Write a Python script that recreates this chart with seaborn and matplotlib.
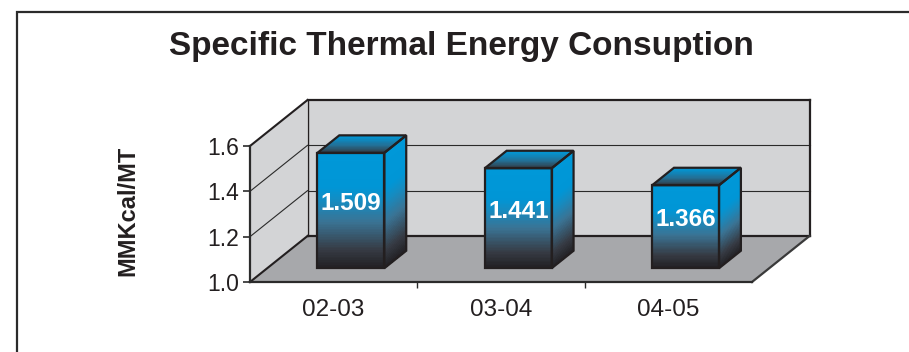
import matplotlib
matplotlib.use("Agg")
import matplotlib.pyplot as plt
import matplotlib.transforms as mtransforms
from matplotlib.patches import Polygon, Rectangle
from matplotlib.lines import Line2D
from matplotlib.colors import LinearSegmentedColormap
import seaborn as sns

# ---- data ----
categories = ["02-03", "03-04", "04-05"]
values = [1.509, 1.441, 1.366]
y_ticks = [1.0, 1.2, 1.4, 1.6]
title = "Specific Thermal Energy Consuption"
y_label = "MMKcal/MT"

sns.set_theme(style="white")
plt.rcParams["font.family"] = ["Liberation Sans", "DejaVu Sans"]

W, H, DPI = 909, 352, 100
fig = plt.figure(figsize=(W / DPI, H / DPI), dpi=DPI)
fig.patch.set_facecolor("white")

# front plane of the 3-D box
ax = fig.add_axes([250 / W, (H - 282) / H, 502 / W, (282 - 146) / H])
ax.set_facecolor("none")

FLOOR, TOP = y_ticks[0], y_ticks[-1]
DX, DY = 57.5, 46.0          # full depth offset in pixels
D0, D1 = 0.30, 0.68          # bar depth span
BAR_W = 0.40
DARK = "#231f20"

sns.barplot(x=categories, y=values, ax=ax, width=BAR_W, errorbar=None,
            color="#0096d6", edgecolor=DARK, linewidth=1.6, zorder=4)

n = len(categories)
X0, X1 = -0.5, n - 0.5
ax.set_xlim(X0, X1)
ax.set_ylim(FLOOR, TOP)

ident = mtransforms.IdentityTransform()


def disp(x, y, d):
    px, py = ax.transData.transform((x, y))
    return (px + d * DX, py + d * DY)


def poly(pts, **kw):
    p = Polygon(pts, closed=True, transform=ident, clip_on=False, **kw)
    ax.add_patch(p)
    return p


def line(p, q, lw=1.0, color=DARK, z=1.0):
    ax.add_line(Line2D([p[0], q[0]], [p[1], q[1]], transform=ident,
                       clip_on=False, lw=lw, color=color, zorder=z,
                       solid_capstyle="projecting"))


# ---- walls and floor ----
wall_c, floor_c = "#d3d4d6", "#a7a8ab"
poly([disp(X0, FLOOR, 0), disp(X0, TOP, 0), disp(X0, TOP, 1), disp(X0, FLOOR, 1)],
     facecolor=wall_c, edgecolor="none", zorder=0.5)
poly([disp(X0, FLOOR, 1), disp(X1, FLOOR, 1), disp(X1, TOP, 1), disp(X0, TOP, 1)],
     facecolor=wall_c, edgecolor="none", zorder=0.5)
poly([disp(X0, FLOOR, 0), disp(X1, FLOOR, 0), disp(X1, FLOOR, 1), disp(X0, FLOOR, 1)],
     facecolor=floor_c, edgecolor="none", zorder=0.5)

# gridlines on side and back walls
for t in y_ticks[1:-1]:
    line(disp(X0, t, 0), disp(X0, t, 1), lw=0.8, color="#2a2a2a", z=0.7)
    line(disp(X0, t, 1), disp(X1, t, 1), lw=0.8, color="#2a2a2a", z=0.7)
line(disp(X0, TOP, 0), disp(X0, TOP, 1), lw=1.5, z=0.8)
line(disp(X0, FLOOR, 0), disp(X0, FLOOR, 1), lw=1.5, z=0.8)
line(disp(X0, TOP, 1), disp(X1, TOP, 1), lw=1.6, z=0.8)
line(disp(X1, TOP, 1), disp(X1, FLOOR, 1), lw=1.6, z=0.8)
line(disp(X0, FLOOR, 1), disp(X1, FLOOR, 1), lw=1.6, z=0.8)
line(disp(X0, TOP, 1), disp(X0, FLOOR, 1), lw=1.0, z=0.8)
line(disp(X1, FLOOR, 0), disp(X1, FLOOR, 1), lw=1.6, color="#3a3a3a", z=0.8)

# ---- bar shading ----
face_cmap = LinearSegmentedColormap.from_list("face", [
    (0.00, "#211f22"), (0.16, "#363b44"), (0.40, "#3a7394"),
    (0.58, "#168bc0"), (0.70, "#0096d6"), (1.00, "#0098d8")])
top_cmap = LinearSegmentedColormap.from_list("top", [
    (0.00, "#34373d"), (0.45, "#236f95"), (1.00, "#0098d8")])


def grad_quad(b0, b1, t0, t1, cmap, steps=70, z=3.0):
    for i in range(steps):
        a, b = i / steps, (i + 1.02) / steps
        b = min(b, 1.0)
        lerp = lambda p, q, s: (p[0] + (q[0] - p[0]) * s, p[1] + (q[1] - p[1]) * s)
        pts = [lerp(b0, t0, a), lerp(b1, t1, a), lerp(b1, t1, b), lerp(b0, t0, b)]
        poly(pts, facecolor=cmap((i + 0.5) / steps), edgecolor="none",
             antialiased=False, zorder=z)


front_tr = ax.transData + mtransforms.Affine2D().translate(D0 * DX, D0 * DY)
for patch, v in zip(ax.patches, values):
    x0 = patch.get_x()
    x1 = x0 + patch.get_width()
    patch.set_y(FLOOR)
    patch.set_height(v - FLOOR)
    patch.set_transform(front_tr)
    patch.set_facecolor("none")
    patch.set_clip_on(False)
    patch.set_zorder(4)

    # front face
    grad_quad(disp(x0, FLOOR, D0), disp(x1, FLOOR, D0),
              disp(x0, v, D0), disp(x1, v, D0), face_cmap)
    # side face
    grad_quad(disp(x1, FLOOR, D0), disp(x1, FLOOR, D1),
              disp(x1, v, D0), disp(x1, v, D1), face_cmap)
    poly([disp(x1, FLOOR, D0), disp(x1, FLOOR, D1), disp(x1, v, D1), disp(x1, v, D0)],
         facecolor="none", edgecolor=DARK, lw=1.6, zorder=4)
    # top face
    grad_quad(disp(x0, v, D0), disp(x1, v, D0),
              disp(x0, v, D1), disp(x1, v, D1), top_cmap, steps=30)
    poly([disp(x0, v, D0), disp(x1, v, D0), disp(x1, v, D1), disp(x0, v, D1)],
         facecolor="none", edgecolor=DARK, lw=1.6, zorder=4)

    # value label
    cx = (x0 + x1) / 2
    lab_tr = ax.transData + mtransforms.Affine2D().translate(
        D0 * DX, (D0 + D1) / 2 * DY - 2)
    ax.text(cx, (FLOOR + v) / 2, f"{v:.3f}", transform=lab_tr, ha="center",
            va="center", color="white", fontsize=17.5, fontweight="bold",
            zorder=5, clip_on=False)

# ---- axes: front edges, ticks, labels ----
for side in ("top", "right"):
    ax.spines[side].set_visible(False)
for side in ("left", "bottom"):
    ax.spines[side].set_visible(True)
    ax.spines[side].set_linewidth(1.6)
    ax.spines[side].set_color("#2b2b2b")
    ax.spines[side].set_zorder(2)
ax.grid(False)

ax.set_yticks(y_ticks)
ax.set_yticklabels([f"{t:.1f}" for t in y_ticks])
ax.tick_params(axis="y", which="major", left=True, length=5, width=1.2,
               color="#2b2b2b", direction="out", pad=3,
               labelsize=16.5, labelcolor="#231f20")

ax.set_xticks([i + 0.5 for i in range(n - 1)])
ax.set_xticklabels([])
ax.set_xticks(range(n), minor=True)
ax.set_xticklabels(categories, minor=True)
ax.tick_params(axis="x", which="major", bottom=True, length=4, width=1.0,
               color="#2b2b2b", direction="out")
ax.tick_params(axis="x", which="minor", bottom=True, length=0, pad=12,
               labelsize=17.5, labelcolor="#231f20")
ax.set_xlabel("")

ax.set_ylabel(y_label, fontsize=17, fontweight="bold", color="#231f20")
ax.yaxis.set_label_coords((139 - 250) / 502, (282 - 211) / 136)

fig.text(461 / W, 1 - 55 / H, title, ha="center", va="baseline",
         fontsize=24, fontweight="bold", color="#231f20")

# outer frame
fig.add_artist(Rectangle((17 / W, -0.2), 1.2, (H - 12) / H + 0.2,
                         transform=fig.transFigure, fill=False,
                         lw=1.6, edgecolor="#2b2b2b"))

fig.savefig("out.png", dpi=DPI)
